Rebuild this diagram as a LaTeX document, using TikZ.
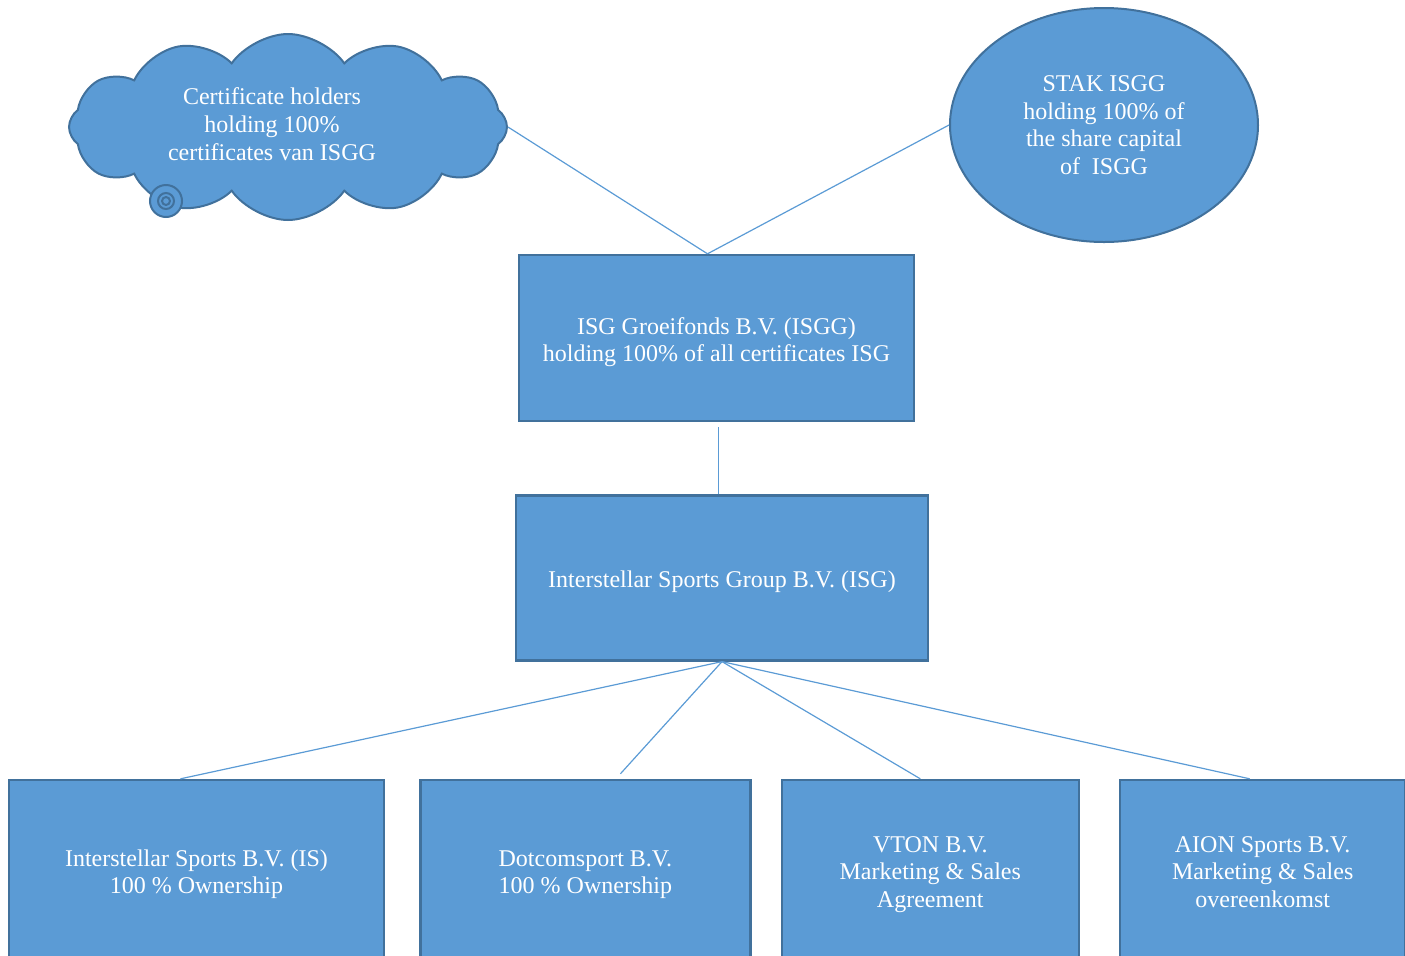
\documentclass[tikz,border=0pt]{standalone}
\usepackage{fontspec}
\setmainfont{Liberation Serif}
\usepackage{xcolor}
\usepackage{tikz}
\usetikzlibrary{shapes.geometric,shapes.symbols,positioning}
\definecolor{orgfill}{RGB}{91,155,213}
\definecolor{orgedge}{RGB}{65,113,156}
\newcommand{\firmtext}[1]{\begin{tabular}{@{}c@{}}\rule{0pt}{14pt}#1\end{tabular}}

\begin{document}
\begin{tikzpicture}[
  x=0.5pt, y=-0.5pt,
  node distance=36pt and 17pt,
  unit/.style={rectangle, draw=orgedge, line width=1.2pt, fill=orgfill, text=white,
    inner sep=0pt, font=\fontsize{12}{13.8}\selectfont},
  sub/.style={unit, minimum height=90pt},
  link/.style={draw=orgfill, line width=0.6pt}
]
\useasboundingbox (0,0) rectangle (1405,955);

% owners
\node[cloud, cloud puffs=12, cloud puff arc=110, cloud ignores aspect,
  draw=orgedge, line width=1pt, fill=orgfill, text=white,
  font=\fontsize{12}{13.8}\selectfont, minimum width=219pt, minimum height=93pt,
  inner sep=0pt] (holders) at (288,127)
  {\begin{tabular}{@{}c@{}}Certificate holders\\holding 100\%\\certificates van ISGG\end{tabular}\kern16pt};
\foreach \r in {8pt,4pt,2pt}
  \draw[draw=orgedge, line width=1pt, fill=orgfill] (166,201) circle (\r);
\node[ellipse, draw=orgedge, line width=1pt, fill=orgfill, text=white, align=center,
  font=\fontsize{12}{13.8}\selectfont, minimum width=154pt, minimum height=117pt,
  inner sep=0pt] (stak) at (1104,125)
  {STAK ISGG\\holding 100\% of\\the share capital\\of\enspace ISGG};

% holding chain
\node[unit, minimum width=197.5pt, minimum height=83pt] (isgg) at (716.5,338)
  {\firmtext{ISG Groeifonds B.V. (ISGG)\\holding 100\% of all certificates ISG}};
\node[unit, minimum width=206pt, minimum height=82.5pt, below=of isgg, xshift=2.75pt] (isg)
  {\firmtext{Interstellar Sports Group B.V. (ISG)}};

% subsidiaries
\node[sub, minimum width=187.5pt] (is) at (196.5,870)
  {\firmtext{Interstellar Sports B.V. (IS)\\100 \% Ownership}};
\node[sub, minimum width=165pt, right=of is] (dot)
  {\firmtext{Dotcomsport B.V.\\100 \% Ownership}};
\node[sub, minimum width=148.5pt, right=14.5pt of dot] (vton)
  {\firmtext{VTON B.V.\\Marketing \& Sales\\Agreement}};
\node[sub, minimum width=142.5pt, right=19.5pt of vton] (aion)
  {\firmtext{AION Sports B.V.\\Marketing \& Sales\\overeenkomst}};

\draw[link] (holders.east) -- ([xshift=-4.5pt]isgg.north);
\draw[link] (stak.west) -- ([xshift=-4.5pt]isgg.north);
\draw[link] ([yshift=-2.5pt,xshift=1pt]isgg.south) -- ([xshift=1pt]isg.north -| isgg.south);
\draw[link] (isg.south) -- ([xshift=-8pt]is.north);
\draw[link] (isg.south) -- ([xshift=17.5pt,yshift=2.5pt]dot.north);
\draw[link] (isg.south) -- ([xshift=-5pt]vton.north);
\draw[link] (isg.south) -- ([xshift=-6.5pt]aion.north);
\end{tikzpicture}
\end{document}
